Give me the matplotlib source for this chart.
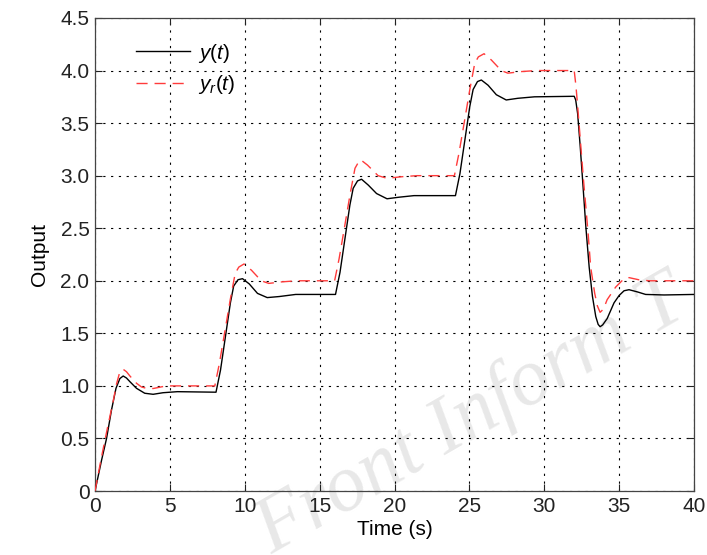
import matplotlib
matplotlib.use("Agg")
import matplotlib.pyplot as plt

# y(t)
t_y = [0, 0.44, 0.77, 1.1, 1.4, 1.66, 1.88, 2.1, 2.33, 2.77, 3.32, 3.88, 4.54, 5.5, 8.08,
       8.38, 8.71, 9.04, 9.26, 9.55, 9.85, 10.3, 10.85, 11.5, 12.3, 13.4, 16.06,
       16.36, 16.69, 17.02, 17.24, 17.53, 17.8, 18.25, 18.8, 19.5, 20.3, 21.3, 24.07,
       24.37, 24.7, 25.03, 25.25, 25.54, 25.8, 26.25, 26.8, 27.46, 28.24, 29.35, 32.0,
       32.1, 32.23, 32.4, 32.56, 32.78, 33.0, 33.22, 33.44, 33.6, 33.73, 33.9, 34.2, 34.66,
       35.0, 35.33, 35.66, 36.2, 36.77, 38.0, 40]
y_out = [0, 0.295, 0.5, 0.77, 0.977, 1.07, 1.094, 1.075, 1.04, 0.977, 0.93, 0.92, 0.935, 0.945, 0.94,
         1.15, 1.47, 1.79, 1.95, 2.01, 2.02, 1.97, 1.88, 1.84, 1.85, 1.87, 1.87,
         2.08, 2.4, 2.72, 2.88, 2.95, 2.966, 2.91, 2.83, 2.78, 2.795, 2.81, 2.81,
         3.02, 3.34, 3.66, 3.82, 3.895, 3.91, 3.86, 3.77, 3.72, 3.736, 3.75, 3.755,
         3.72, 3.59, 3.28, 2.96, 2.51, 2.13, 1.85, 1.66, 1.585, 1.563, 1.58, 1.64, 1.79,
         1.86, 1.905, 1.915, 1.895, 1.87, 1.865, 1.87]

# y_r(t)
t_r = [0, 0.4, 0.8, 1.22, 1.44, 1.66, 1.88, 2.1, 2.33, 2.77, 3.1, 3.43, 3.88, 4.76, 8.0,
       8.3, 8.65, 9.03, 9.36, 9.6, 9.95, 10.45, 11.1, 11.6, 12.5, 13.5, 16.0,
       16.3, 16.65, 17.03, 17.36, 17.6, 17.75, 18.2, 18.9, 19.5, 20.5, 21.5, 24.0,
       24.3, 24.65, 25.03, 25.36, 25.6, 25.98, 26.47, 27.13, 27.57, 28.46, 29.5, 32.0,
       32.12, 32.27, 32.62, 32.93, 33.1, 33.37, 33.55, 33.73, 33.95, 34.2, 34.77, 35.33,
       35.66, 36.3, 37.0, 40]
y_ref = [0, 0.3, 0.58, 0.86, 1.02, 1.135, 1.158, 1.135, 1.094, 1.025, 0.99, 0.977, 0.975, 1.0, 1.0,
         1.21, 1.5, 1.82, 2.07, 2.13, 2.16, 2.1, 2.0, 1.975, 1.99, 2.0, 2.0,
         2.21, 2.5, 2.82, 3.07, 3.13, 3.15, 3.1, 3.0, 2.975, 2.99, 3.0, 3.0,
         3.21, 3.5, 3.82, 4.07, 4.13, 4.16, 4.1, 4.0, 3.975, 3.99, 4.0, 4.0,
         3.85, 3.59, 2.96, 2.45, 2.13, 1.88, 1.76, 1.70, 1.73, 1.82, 1.94, 2.02,
         2.03, 2.01, 2.0, 2.0]

x_ticks = [0, 5, 10, 15, 20, 25, 30, 35, 40]
y_ticks = [0, 0.5, 1.0, 1.5, 2.0, 2.5, 3.0, 3.5, 4.0, 4.5]
y_tick_labels = ["0", "0.5", "1.0", "1.5", "2.0", "2.5", "3.0", "3.5", "4.0", "4.5"]

plt.rcParams['font.family'] = ['Liberation Sans', 'DejaVu Sans']
plt.rcParams['mathtext.fontset'] = 'custom'
plt.rcParams['mathtext.it'] = 'Liberation Sans:italic'
plt.rcParams['mathtext.rm'] = 'Liberation Sans'

fig = plt.figure(figsize=(7.07, 5.55), dpi=100)
ax = fig.add_axes([0.1344, 0.1153, 0.8472, 0.8523])
ax.set_zorder(2)
ax.patch.set_alpha(0)

# faint watermark, kept behind the axes
fig.text(0.385, 0.0, 'Front Inform T', fontsize=58, family='Liberation Serif',
         style='italic', color='#e8e8e8', rotation=30, rotation_mode='anchor',
         ha='left', va='baseline', zorder=0)

ax.plot(t_y, y_out, color='black', lw=1.0, label=r'$y(t)$', zorder=3)
ax.plot(t_r, y_ref, color='#ff3b3b', lw=1.0, dashes=(8, 5), label=r'$y_r(t)$', zorder=3)

ax.set_xlim(0, 40)
ax.set_ylim(0, 4.5)
ax.set_xticks(x_ticks)
ax.set_yticks(y_ticks)
ax.set_yticklabels(y_tick_labels)
ax.tick_params(direction='in', length=5, labelsize=15, colors='#222222', top=True, right=True, pad=4)
ax.tick_params(labeltop=False, labelright=False)
for s in ax.spines.values():
    s.set_color('#444444')
    s.set_linewidth(0.9)
ax.grid(True, color='black', linestyle=(0, (2, 5)), linewidth=0.8)

ax.set_xlabel('Time (s)', fontsize=15, labelpad=3)
ax.set_ylabel('Output', fontsize=15, labelpad=8)

ax.legend(loc='upper left', bbox_to_anchor=(0.068, 0.95), frameon=False, fontsize=15,
          borderpad=0, borderaxespad=0, handlelength=2.6, handletextpad=0.4,
          labelspacing=0.4)

fig.savefig('out.png', dpi=100)
